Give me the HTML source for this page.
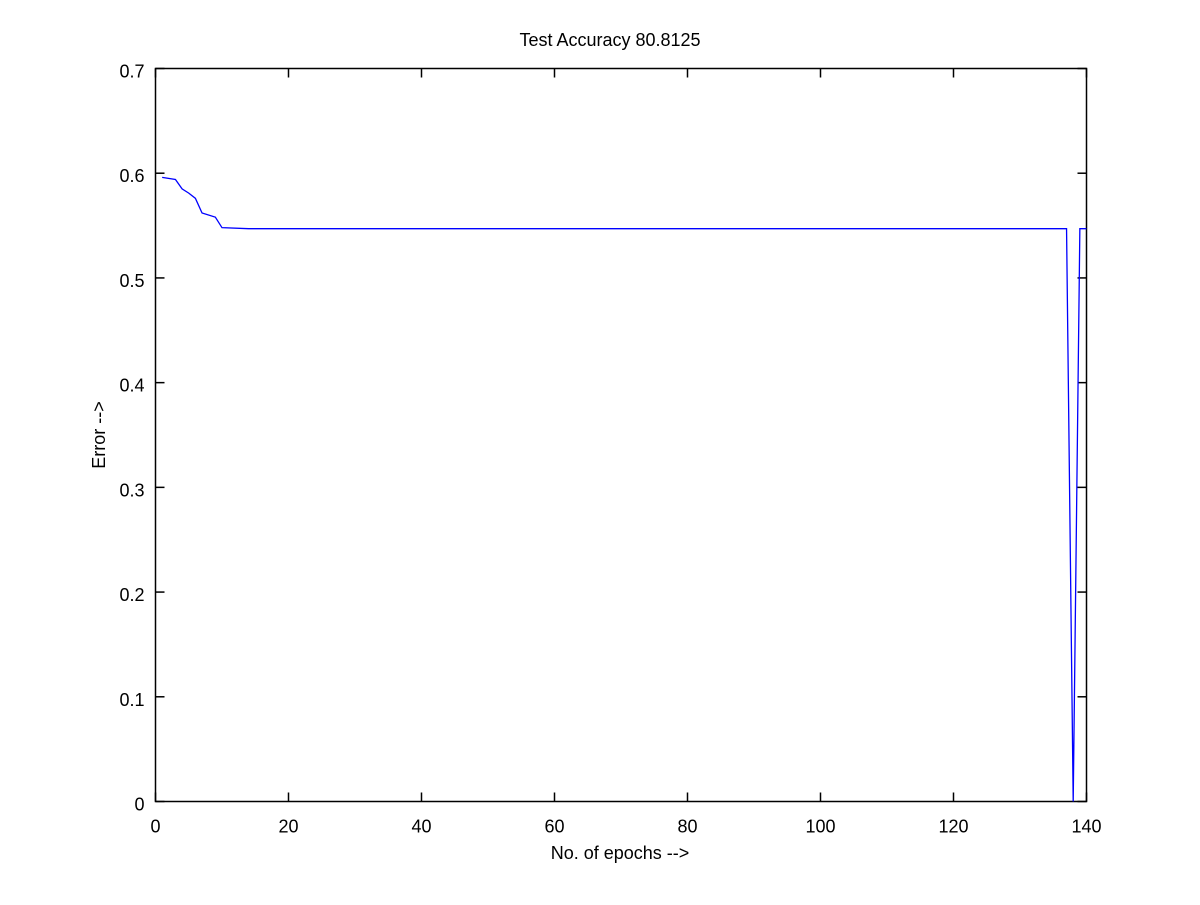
<!DOCTYPE html>
<html><head><meta charset="utf-8"><style>
body{margin:0;background:#fff;}
svg text{font-family:"Liberation Sans",sans-serif;fill:#000;}
</style></head><body>
<svg id="chart" width="1200" height="900">
<rect x="0" y="0" width="1200" height="900" fill="#fff"/>
<g id="grid"></g>
<rect x="155.5" y="68.5" width="931" height="733" fill="none" stroke="#000" stroke-width="1.5"/>
<text x="610" y="46" font-size="18" text-anchor="middle">Test Accuracy 80.8125</text>
<text x="620" y="859" font-size="18" text-anchor="middle">No. of epochs --&gt;</text>
<text x="0" y="0" font-size="18" text-anchor="middle" transform="translate(105,435) rotate(-90)">Error --&gt;</text>
</svg>
<script>
const epochs=[1,3,4,5,6,7,9,10,14,137,138,139,140];
const errors=[0.596,0.594,0.585,0.581,0.576,0.562,0.558,0.548,0.547,0.547,0,0.547,0.547];
const xTicks=[0,20,40,60,80,100,120,140];
const yTicks=[0,0.1,0.2,0.3,0.4,0.5,0.6,0.7];
const NS="http://www.w3.org/2000/svg";
const svg=document.getElementById('chart');
const g=document.getElementById('grid');
const L=155.5,R=1086.5,T=68.5,B=801.5;
const xs=v=>L+(v-0)/140*(R-L);
const ys=v=>B-(v-0)/0.7*(B-T);
function mk(t,a){const e=document.createElementNS(NS,t);for(const k in a)e.setAttribute(k,a[k]);return e;}
xTicks.forEach(v=>{
  const x=xs(v);
  const t1=mk('line',{x1:x,x2:x,y1:B,y2:B-9,stroke:'#000','stroke-width':1.5});
  
  
  g.appendChild(t1);
  const t2=mk('line',{x1:x,x2:x,y1:T,y2:T+9,stroke:'#000','stroke-width':1.5});
  
  
  g.appendChild(t2);
  const lb=mk('text',{x:x,y:B+31,'font-size':18,'text-anchor':'middle'});
  lb.textContent=String(v);
  
  
  g.appendChild(lb);
});
yTicks.forEach(v=>{
  const y=ys(v);
  const t1=mk('line',{x1:L,x2:L+9,y1:y,y2:y,stroke:'#000','stroke-width':1.5});
  
  
  g.appendChild(t1);
  const t2=mk('line',{x1:R,x2:R-9,y1:y,y2:y,stroke:'#000','stroke-width':1.5});
  
  
  g.appendChild(t2);
  const lb=mk('text',{x:L-11,y:y+9,'font-size':18,'text-anchor':'end'});
  lb.textContent=v===0?'0':v.toFixed(1);
  
  
  g.appendChild(lb);
});
const pts=epochs.map((e,i)=>xs(e).toFixed(2)+','+ys(errors[i]).toFixed(2)).join(' ');
const line=mk('polyline',{points:pts,fill:'none',stroke:'#0000ff','stroke-width':1.3});


svg.appendChild(line);
</script>
</body></html>
